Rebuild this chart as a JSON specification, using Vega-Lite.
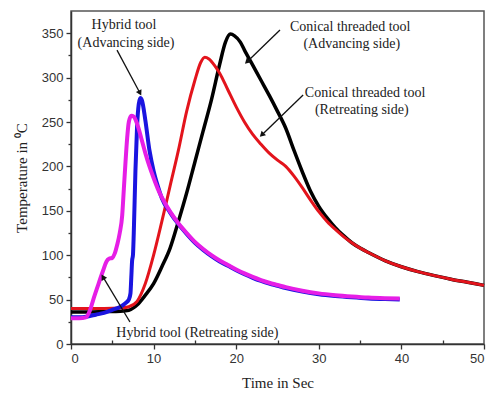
{
  "$schema": "https://vega.github.io/schema/vega-lite/v6.json",
  "width": 413,
  "height": 333,
  "autosize": "none",
  "padding": {"left": 71, "top": 11, "right": 2, "bottom": 49},
  "background": "white",
  "config": {
    "view": {"stroke": "#555", "strokeWidth": 1.5},
    "axis": {"grid": false, "domainColor": "#333", "domainWidth": 1.5, "tickColor": "#333", "tickWidth": 1.3, "labelFont": "Liberation Sans", "labelFontSize": 13, "labelColor": "#333", "titleFont": "Liberation Serif", "titleFontSize": 15, "titleFontWeight": "normal", "titleColor": "#222"}
  },
  "datasets": {
    "curves": [
      {"series": "Conical threaded tool (Advancing side)", "t": 0, "temp": 36},
      {"series": "Conical threaded tool (Advancing side)", "t": 2, "temp": 36},
      {"series": "Conical threaded tool (Advancing side)", "t": 4, "temp": 36.5},
      {"series": "Conical threaded tool (Advancing side)", "t": 6, "temp": 37},
      {"series": "Conical threaded tool (Advancing side)", "t": 7, "temp": 38},
      {"series": "Conical threaded tool (Advancing side)", "t": 7.6, "temp": 41},
      {"series": "Conical threaded tool (Advancing side)", "t": 8, "temp": 44},
      {"series": "Conical threaded tool (Advancing side)", "t": 9, "temp": 55},
      {"series": "Conical threaded tool (Advancing side)", "t": 10, "temp": 68},
      {"series": "Conical threaded tool (Advancing side)", "t": 11, "temp": 87},
      {"series": "Conical threaded tool (Advancing side)", "t": 12, "temp": 108},
      {"series": "Conical threaded tool (Advancing side)", "t": 13, "temp": 138},
      {"series": "Conical threaded tool (Advancing side)", "t": 14, "temp": 170},
      {"series": "Conical threaded tool (Advancing side)", "t": 15, "temp": 205},
      {"series": "Conical threaded tool (Advancing side)", "t": 16, "temp": 240},
      {"series": "Conical threaded tool (Advancing side)", "t": 17, "temp": 275},
      {"series": "Conical threaded tool (Advancing side)", "t": 18, "temp": 315},
      {"series": "Conical threaded tool (Advancing side)", "t": 18.7, "temp": 340},
      {"series": "Conical threaded tool (Advancing side)", "t": 19.3, "temp": 349},
      {"series": "Conical threaded tool (Advancing side)", "t": 19.8, "temp": 347},
      {"series": "Conical threaded tool (Advancing side)", "t": 20.5, "temp": 340},
      {"series": "Conical threaded tool (Advancing side)", "t": 21, "temp": 331},
      {"series": "Conical threaded tool (Advancing side)", "t": 22, "temp": 314},
      {"series": "Conical threaded tool (Advancing side)", "t": 23, "temp": 297},
      {"series": "Conical threaded tool (Advancing side)", "t": 24, "temp": 280},
      {"series": "Conical threaded tool (Advancing side)", "t": 25, "temp": 262},
      {"series": "Conical threaded tool (Advancing side)", "t": 26, "temp": 243},
      {"series": "Conical threaded tool (Advancing side)", "t": 27, "temp": 218},
      {"series": "Conical threaded tool (Advancing side)", "t": 28, "temp": 194},
      {"series": "Conical threaded tool (Advancing side)", "t": 29, "temp": 172},
      {"series": "Conical threaded tool (Advancing side)", "t": 30, "temp": 155},
      {"series": "Conical threaded tool (Advancing side)", "t": 31, "temp": 142},
      {"series": "Conical threaded tool (Advancing side)", "t": 32, "temp": 131},
      {"series": "Conical threaded tool (Advancing side)", "t": 33, "temp": 122},
      {"series": "Conical threaded tool (Advancing side)", "t": 34, "temp": 114},
      {"series": "Conical threaded tool (Advancing side)", "t": 35, "temp": 108},
      {"series": "Conical threaded tool (Advancing side)", "t": 36, "temp": 103},
      {"series": "Conical threaded tool (Advancing side)", "t": 38, "temp": 94},
      {"series": "Conical threaded tool (Advancing side)", "t": 40, "temp": 87},
      {"series": "Conical threaded tool (Advancing side)", "t": 42, "temp": 81.5},
      {"series": "Conical threaded tool (Advancing side)", "t": 44, "temp": 77},
      {"series": "Conical threaded tool (Advancing side)", "t": 46, "temp": 73},
      {"series": "Conical threaded tool (Advancing side)", "t": 48, "temp": 69.5},
      {"series": "Conical threaded tool (Advancing side)", "t": 50, "temp": 66},
      {"series": "Conical threaded tool (Retreating side)", "t": 0, "temp": 40},
      {"series": "Conical threaded tool (Retreating side)", "t": 2, "temp": 40},
      {"series": "Conical threaded tool (Retreating side)", "t": 4, "temp": 40},
      {"series": "Conical threaded tool (Retreating side)", "t": 6, "temp": 40.5},
      {"series": "Conical threaded tool (Retreating side)", "t": 7, "temp": 42},
      {"series": "Conical threaded tool (Retreating side)", "t": 8, "temp": 48},
      {"series": "Conical threaded tool (Retreating side)", "t": 9, "temp": 68},
      {"series": "Conical threaded tool (Retreating side)", "t": 10, "temp": 100},
      {"series": "Conical threaded tool (Retreating side)", "t": 11, "temp": 138},
      {"series": "Conical threaded tool (Retreating side)", "t": 12, "temp": 178},
      {"series": "Conical threaded tool (Retreating side)", "t": 13, "temp": 218},
      {"series": "Conical threaded tool (Retreating side)", "t": 14, "temp": 262},
      {"series": "Conical threaded tool (Retreating side)", "t": 15, "temp": 297},
      {"series": "Conical threaded tool (Retreating side)", "t": 15.7, "temp": 317},
      {"series": "Conical threaded tool (Retreating side)", "t": 16.2, "temp": 323},
      {"series": "Conical threaded tool (Retreating side)", "t": 16.7, "temp": 321},
      {"series": "Conical threaded tool (Retreating side)", "t": 17.5, "temp": 312},
      {"series": "Conical threaded tool (Retreating side)", "t": 18, "temp": 305},
      {"series": "Conical threaded tool (Retreating side)", "t": 19, "temp": 286},
      {"series": "Conical threaded tool (Retreating side)", "t": 20, "temp": 267},
      {"series": "Conical threaded tool (Retreating side)", "t": 21, "temp": 250},
      {"series": "Conical threaded tool (Retreating side)", "t": 22, "temp": 236},
      {"series": "Conical threaded tool (Retreating side)", "t": 23, "temp": 225},
      {"series": "Conical threaded tool (Retreating side)", "t": 24, "temp": 215},
      {"series": "Conical threaded tool (Retreating side)", "t": 25, "temp": 207},
      {"series": "Conical threaded tool (Retreating side)", "t": 26, "temp": 200},
      {"series": "Conical threaded tool (Retreating side)", "t": 27, "temp": 189},
      {"series": "Conical threaded tool (Retreating side)", "t": 28, "temp": 176},
      {"series": "Conical threaded tool (Retreating side)", "t": 29, "temp": 162},
      {"series": "Conical threaded tool (Retreating side)", "t": 30, "temp": 149},
      {"series": "Conical threaded tool (Retreating side)", "t": 31, "temp": 138},
      {"series": "Conical threaded tool (Retreating side)", "t": 32, "temp": 129},
      {"series": "Conical threaded tool (Retreating side)", "t": 33, "temp": 121},
      {"series": "Conical threaded tool (Retreating side)", "t": 34, "temp": 114},
      {"series": "Conical threaded tool (Retreating side)", "t": 35, "temp": 108},
      {"series": "Conical threaded tool (Retreating side)", "t": 36, "temp": 103},
      {"series": "Conical threaded tool (Retreating side)", "t": 38, "temp": 94},
      {"series": "Conical threaded tool (Retreating side)", "t": 40, "temp": 87},
      {"series": "Conical threaded tool (Retreating side)", "t": 42, "temp": 81.5},
      {"series": "Conical threaded tool (Retreating side)", "t": 44, "temp": 77},
      {"series": "Conical threaded tool (Retreating side)", "t": 46, "temp": 73},
      {"series": "Conical threaded tool (Retreating side)", "t": 48, "temp": 69.5},
      {"series": "Conical threaded tool (Retreating side)", "t": 50, "temp": 66},
      {"series": "Hybrid tool (Advancing side)", "t": 0, "temp": 30},
      {"series": "Hybrid tool (Advancing side)", "t": 1, "temp": 30},
      {"series": "Hybrid tool (Advancing side)", "t": 2, "temp": 31},
      {"series": "Hybrid tool (Advancing side)", "t": 3, "temp": 33},
      {"series": "Hybrid tool (Advancing side)", "t": 4, "temp": 35},
      {"series": "Hybrid tool (Advancing side)", "t": 5, "temp": 38.5},
      {"series": "Hybrid tool (Advancing side)", "t": 6, "temp": 42},
      {"series": "Hybrid tool (Advancing side)", "t": 6.6, "temp": 46},
      {"series": "Hybrid tool (Advancing side)", "t": 7.0, "temp": 50},
      {"series": "Hybrid tool (Advancing side)", "t": 7.2, "temp": 57},
      {"series": "Hybrid tool (Advancing side)", "t": 7.3, "temp": 75},
      {"series": "Hybrid tool (Advancing side)", "t": 7.4, "temp": 94},
      {"series": "Hybrid tool (Advancing side)", "t": 7.5, "temp": 100},
      {"series": "Hybrid tool (Advancing side)", "t": 7.6, "temp": 125},
      {"series": "Hybrid tool (Advancing side)", "t": 7.8, "temp": 195},
      {"series": "Hybrid tool (Advancing side)", "t": 8.0, "temp": 245},
      {"series": "Hybrid tool (Advancing side)", "t": 8.2, "temp": 270},
      {"series": "Hybrid tool (Advancing side)", "t": 8.4, "temp": 277},
      {"series": "Hybrid tool (Advancing side)", "t": 8.6, "temp": 274},
      {"series": "Hybrid tool (Advancing side)", "t": 9.0, "temp": 252},
      {"series": "Hybrid tool (Advancing side)", "t": 9.5, "temp": 218},
      {"series": "Hybrid tool (Advancing side)", "t": 10, "temp": 195},
      {"series": "Hybrid tool (Advancing side)", "t": 10.5, "temp": 178},
      {"series": "Hybrid tool (Advancing side)", "t": 11, "temp": 164},
      {"series": "Hybrid tool (Advancing side)", "t": 12, "temp": 148},
      {"series": "Hybrid tool (Advancing side)", "t": 13, "temp": 135},
      {"series": "Hybrid tool (Advancing side)", "t": 14, "temp": 124},
      {"series": "Hybrid tool (Advancing side)", "t": 15, "temp": 114},
      {"series": "Hybrid tool (Advancing side)", "t": 16, "temp": 106},
      {"series": "Hybrid tool (Advancing side)", "t": 17, "temp": 99},
      {"series": "Hybrid tool (Advancing side)", "t": 18, "temp": 93},
      {"series": "Hybrid tool (Advancing side)", "t": 19, "temp": 88},
      {"series": "Hybrid tool (Advancing side)", "t": 20, "temp": 83},
      {"series": "Hybrid tool (Advancing side)", "t": 21, "temp": 78.5},
      {"series": "Hybrid tool (Advancing side)", "t": 22, "temp": 74.5},
      {"series": "Hybrid tool (Advancing side)", "t": 23, "temp": 71},
      {"series": "Hybrid tool (Advancing side)", "t": 24, "temp": 68},
      {"series": "Hybrid tool (Advancing side)", "t": 25, "temp": 65.5},
      {"series": "Hybrid tool (Advancing side)", "t": 26, "temp": 63},
      {"series": "Hybrid tool (Advancing side)", "t": 28, "temp": 59},
      {"series": "Hybrid tool (Advancing side)", "t": 30, "temp": 56},
      {"series": "Hybrid tool (Advancing side)", "t": 32, "temp": 54},
      {"series": "Hybrid tool (Advancing side)", "t": 34, "temp": 52.5},
      {"series": "Hybrid tool (Advancing side)", "t": 36, "temp": 51.3},
      {"series": "Hybrid tool (Advancing side)", "t": 38, "temp": 50.6},
      {"series": "Hybrid tool (Advancing side)", "t": 39.8, "temp": 50.2},
      {"series": "Hybrid tool (Retreating side)", "t": 0, "temp": 29},
      {"series": "Hybrid tool (Retreating side)", "t": 1, "temp": 29},
      {"series": "Hybrid tool (Retreating side)", "t": 1.8, "temp": 30},
      {"series": "Hybrid tool (Retreating side)", "t": 2.3, "temp": 38},
      {"series": "Hybrid tool (Retreating side)", "t": 2.7, "temp": 50},
      {"series": "Hybrid tool (Retreating side)", "t": 3.2, "temp": 64},
      {"series": "Hybrid tool (Retreating side)", "t": 3.9, "temp": 83},
      {"series": "Hybrid tool (Retreating side)", "t": 4.3, "temp": 93},
      {"series": "Hybrid tool (Retreating side)", "t": 4.6, "temp": 96},
      {"series": "Hybrid tool (Retreating side)", "t": 5.0, "temp": 97},
      {"series": "Hybrid tool (Retreating side)", "t": 5.3, "temp": 102},
      {"series": "Hybrid tool (Retreating side)", "t": 5.6, "temp": 112},
      {"series": "Hybrid tool (Retreating side)", "t": 5.9, "temp": 125},
      {"series": "Hybrid tool (Retreating side)", "t": 6.2, "temp": 145},
      {"series": "Hybrid tool (Retreating side)", "t": 6.4, "temp": 175},
      {"series": "Hybrid tool (Retreating side)", "t": 6.6, "temp": 205},
      {"series": "Hybrid tool (Retreating side)", "t": 6.8, "temp": 232},
      {"series": "Hybrid tool (Retreating side)", "t": 7.0, "temp": 250},
      {"series": "Hybrid tool (Retreating side)", "t": 7.3, "temp": 257},
      {"series": "Hybrid tool (Retreating side)", "t": 7.6, "temp": 256},
      {"series": "Hybrid tool (Retreating side)", "t": 8.0, "temp": 248},
      {"series": "Hybrid tool (Retreating side)", "t": 8.5, "temp": 232},
      {"series": "Hybrid tool (Retreating side)", "t": 9.0, "temp": 215},
      {"series": "Hybrid tool (Retreating side)", "t": 9.5, "temp": 200},
      {"series": "Hybrid tool (Retreating side)", "t": 10, "temp": 187},
      {"series": "Hybrid tool (Retreating side)", "t": 10.5, "temp": 175},
      {"series": "Hybrid tool (Retreating side)", "t": 11, "temp": 165},
      {"series": "Hybrid tool (Retreating side)", "t": 12, "temp": 149},
      {"series": "Hybrid tool (Retreating side)", "t": 13, "temp": 136},
      {"series": "Hybrid tool (Retreating side)", "t": 14, "temp": 125},
      {"series": "Hybrid tool (Retreating side)", "t": 15, "temp": 115},
      {"series": "Hybrid tool (Retreating side)", "t": 16, "temp": 107},
      {"series": "Hybrid tool (Retreating side)", "t": 17, "temp": 100},
      {"series": "Hybrid tool (Retreating side)", "t": 18, "temp": 94},
      {"series": "Hybrid tool (Retreating side)", "t": 19, "temp": 89},
      {"series": "Hybrid tool (Retreating side)", "t": 20, "temp": 84},
      {"series": "Hybrid tool (Retreating side)", "t": 21, "temp": 79.5},
      {"series": "Hybrid tool (Retreating side)", "t": 22, "temp": 75.5},
      {"series": "Hybrid tool (Retreating side)", "t": 23, "temp": 72},
      {"series": "Hybrid tool (Retreating side)", "t": 24, "temp": 69},
      {"series": "Hybrid tool (Retreating side)", "t": 25, "temp": 66.5},
      {"series": "Hybrid tool (Retreating side)", "t": 26, "temp": 64},
      {"series": "Hybrid tool (Retreating side)", "t": 28, "temp": 60},
      {"series": "Hybrid tool (Retreating side)", "t": 30, "temp": 57},
      {"series": "Hybrid tool (Retreating side)", "t": 32, "temp": 55},
      {"series": "Hybrid tool (Retreating side)", "t": 34, "temp": 53.5},
      {"series": "Hybrid tool (Retreating side)", "t": 36, "temp": 52.3},
      {"series": "Hybrid tool (Retreating side)", "t": 38, "temp": 51.6},
      {"series": "Hybrid tool (Retreating side)", "t": 39.8, "temp": 51.2}
    ],
    "labels": [
      {"text": "Hybrid tool", "t": 6.42, "temp": 359},
      {"text": "(Advancing side)", "t": 6.66, "temp": 339},
      {"text": "Conical threaded tool", "t": 33.8, "temp": 357},
      {"text": "(Advancing side)", "t": 34.0, "temp": 338},
      {"text": "Conical threaded tool", "t": 35.6, "temp": 283},
      {"text": "(Retreating side)", "t": 35.2, "temp": 264},
      {"text": "Hybrid tool (Retreating side)", "t": 15.3, "temp": 12.4}
    ],
    "arrows": [
      {"t": 5.57, "temp": 331, "t2": 8.35, "temp2": 282.6, "angle": 152},
      {"t": 25.3, "temp": 353.6, "t2": 21.3, "temp2": 317.6, "angle": 226},
      {"t": 28.1, "temp": 280.4, "t2": 23.1, "temp2": 235.4, "angle": 226},
      {"t": 7.14, "temp": 24.8, "t2": 3.87, "temp2": 75.5, "angle": 329}
    ]
  },
  "resolve": {"axis": {"x": "independent", "y": "independent"}},
  "layer": [
    {
      "data": {"name": "curves"},
      "transform": [{"filter": "datum.series === 'Conical threaded tool (Advancing side)'"}],
      "mark": {"type": "line", "color": "#000000", "strokeWidth": 3.5, "interpolate": "monotone"},
      "encoding": {
        "x": {"field": "t", "type": "quantitative", "scale": {"domain": [0, 50], "nice": false}, "axis": {"orient": "bottom", "title": "Time in Sec", "values": [0, 10, 20, 30, 40, 50], "tickSize": 5, "labelPadding": 3, "titlePadding": 10}},
        "y": {"field": "temp", "type": "quantitative", "scale": {"domain": [0, 375], "nice": false}, "axis": {"orient": "left", "title": "Temperature in ⁰C", "values": [0, 50, 100, 150, 200, 250, 300, 350], "tickSize": 5, "labelPadding": 3, "titlePadding": 12}}
      }
    },
    {
      "data": {"name": "curves"},
      "transform": [{"filter": "datum.series === 'Conical threaded tool (Retreating side)'"}],
      "mark": {"type": "line", "color": "#e3141c", "strokeWidth": 3, "interpolate": "monotone"},
      "encoding": {
        "x": {"field": "t", "type": "quantitative", "axis": {"orient": "bottom", "title": null, "values": [5, 15, 25, 35, 45], "labels": false, "domain": false, "tickSize": -4}},
        "y": {"field": "temp", "type": "quantitative", "axis": {"orient": "left", "title": null, "values": [25, 75, 125, 175, 225, 275, 325], "labels": false, "domain": false, "tickSize": 3}}
      }
    },
    {
      "data": {"name": "curves"},
      "transform": [{"filter": "datum.series === 'Hybrid tool (Advancing side)'"}],
      "mark": {"type": "line", "color": "#1a14e0", "strokeWidth": 4, "interpolate": "monotone"},
      "encoding": {
        "x": {"field": "t", "type": "quantitative", "axis": null},
        "y": {"field": "temp", "type": "quantitative", "axis": null}
      }
    },
    {
      "data": {"name": "curves"},
      "transform": [{"filter": "datum.series === 'Hybrid tool (Retreating side)'"}],
      "mark": {"type": "line", "color": "#e61ee6", "strokeWidth": 4, "interpolate": "monotone"},
      "encoding": {
        "x": {"field": "t", "type": "quantitative", "axis": null},
        "y": {"field": "temp", "type": "quantitative", "axis": null}
      }
    },
    {
      "data": {"name": "arrows"},
      "mark": {"type": "rule", "color": "#111", "strokeWidth": 1.3},
      "encoding": {
        "x": {"field": "t", "type": "quantitative", "axis": null},
        "y": {"field": "temp", "type": "quantitative", "axis": null},
        "x2": {"field": "t2"},
        "y2": {"field": "temp2"}
      }
    },
    {
      "data": {"name": "arrows"},
      "mark": {"type": "point", "shape": "triangle-up", "filled": true, "color": "#111", "size": 40, "opacity": 1},
      "encoding": {
        "x": {"field": "t2", "type": "quantitative", "axis": null},
        "y": {"field": "temp2", "type": "quantitative", "axis": null},
        "angle": {"field": "angle", "type": "quantitative", "scale": null}
      }
    },
    {
      "data": {"name": "labels"},
      "mark": {"type": "text", "font": "Liberation Serif", "fontSize": 14, "color": "#222", "align": "center", "baseline": "middle"},
      "encoding": {
        "x": {"field": "t", "type": "quantitative", "axis": null},
        "y": {"field": "temp", "type": "quantitative", "axis": null},
        "text": {"field": "text"}
      }
    }
  ]
}
